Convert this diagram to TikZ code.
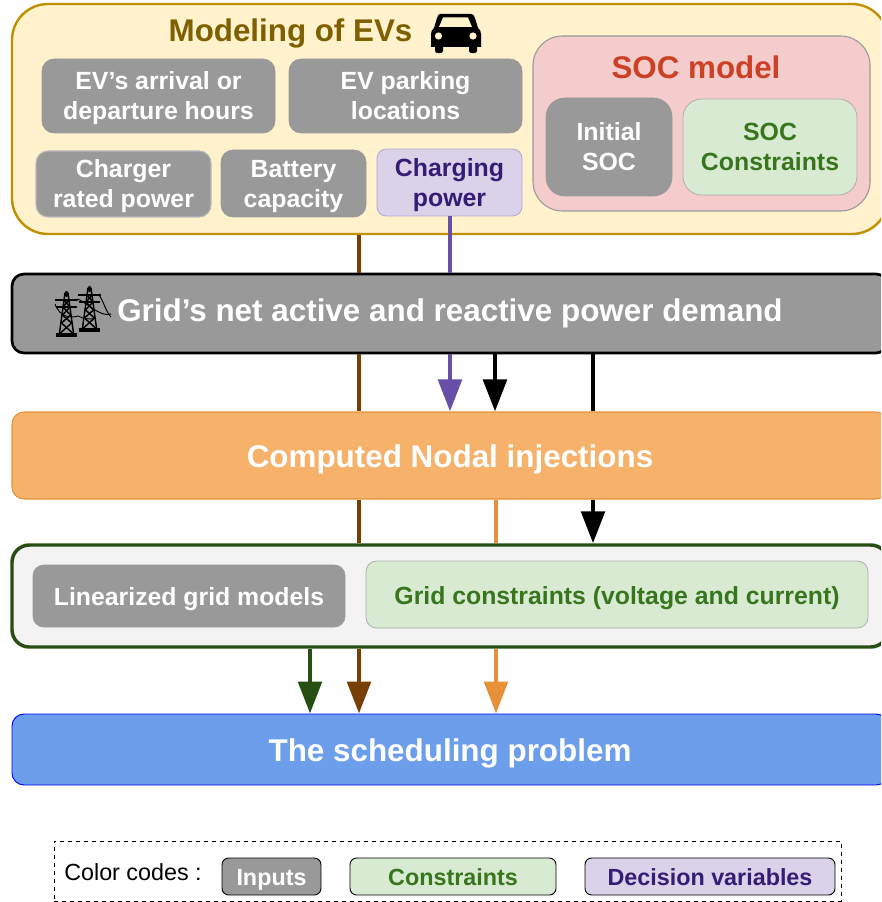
\documentclass[tikz,border=0pt]{standalone}
\usepackage{fontspec}
\setmainfont{Liberation Sans}
\usetikzlibrary{arrows.meta,calc}
\definecolor{cGray}{HTML}{999999}
\definecolor{cYel}{HTML}{FFF2CC}
\definecolor{cYelB}{HTML}{BF9000}
\definecolor{cYelT}{HTML}{7F6000}
\definecolor{cPink}{HTML}{F4CCCC}
\definecolor{cRed}{HTML}{CC4125}
\definecolor{cGrn}{HTML}{D9EAD3}
\definecolor{cGrnT}{HTML}{38761D}
\definecolor{cGrnD}{HTML}{274E13}
\definecolor{cLav}{HTML}{D9D2E9}
\definecolor{cLavB}{HTML}{B4A7D6}
\definecolor{cLavT}{HTML}{351C75}
\definecolor{cBrown}{HTML}{783F04}
\definecolor{cPur}{HTML}{674EA7}
\definecolor{cOrF}{HTML}{F6B26B}
\definecolor{cOr}{HTML}{E69138}
\definecolor{cBlue}{HTML}{6D9EEB}
\definecolor{cLight}{HTML}{F3F3F3}
\newcommand{\bxnode}[7]{%
  \pgfmathsetmacro{\bxw}{(#4-#2)*0.75}%
  \pgfmathsetmacro{\bxh}{(#5-#3)*0.75}%
  \node[#6,minimum width=\bxw pt,minimum height=\bxh pt] (#1) at ({(#2+#4)/2},{(#3+#5)/2}) {#7};}
\newcommand{\twolines}[2]{\rule{0pt}{18pt}#1\\#2\rule[-4.5pt]{0pt}{4.5pt}}
\newcommand{\oneline}[3]{\rule[-#2pt]{0pt}{#1pt}#3}
\newcommand{\pylon}[2]{%
  \begin{scope}[shift={(#1,#2)},draw=black,line width=1.1pt,line cap=round]
    \draw (-1.5,0) -- (-7,40) (1.5,0) -- (7,40);
    \draw (-11,7) -- (11,7) (-10,14) -- (10,14);
    \draw (-2.5,7) -- (3.5,14) -- (-4,22) -- (5,30) -- (-6,40);
    \draw (2.5,7) -- (-3.5,14) -- (4,22) -- (-5,30) -- (6,40);
    \draw[line width=3pt,line cap=butt] (-10.5,42) -- (10.5,42);
    \draw[line width=1.8pt] (0,-1) -- (0,3);
  \end{scope}}
\tikzset{
  x=0.75pt,y=-0.75pt,
  txt/.style={font=\fontsize{18.65}{22.5}\selectfont\bfseries,align=center,inner sep=0pt},
  inbox/.style={txt,rectangle,rounded corners=9pt,text=white,fill=cGray,draw=cGray,line width=0.5pt},
  conbox/.style={txt,rectangle,rounded corners=9pt,text=cGrnT,fill=cGrn,draw=cGray!80,line width=0.6pt},
  decbox/.style={txt,rectangle,rounded corners=7pt,text=cLavT,fill=cLav,draw=cLavB,line width=0.6pt},
  banner/.style={font=\fontsize{23.55}{28}\selectfont\bfseries,inner sep=0pt,rectangle,rounded corners=9pt},
  legbox/.style={font=\fontsize{17.5}{21}\selectfont\bfseries,inner sep=0pt,rectangle,rounded corners=5pt,draw=black,line width=0.7pt},
  wire/.style={line width=3.4pt},
  tipped/.style={wire,-{Triangle[width=17.5pt,length=24pt]}},
}
\begin{document}
\begin{tikzpicture}
\useasboundingbox (0,0) rectangle (881,902);
\clip (0,0) rectangle (881,902);
% upper group
\bxnode{model}{12}{4}{888}{234}{rectangle,rounded corners=27pt,fill=cYel,draw=cYelB,line width=1.8pt}{}
\node[font=\fontsize{23.5}{27}\selectfont\bfseries,text=cYelT,inner sep=0pt] (modeltitle) at (290.5,33) {Modeling of EVs};
\bxnode{arrival}{42}{59}{275}{133}{inbox}{\twolines{EV’s arrival or}{departure hours}}
\bxnode{parking}{289}{59}{522}{133}{inbox}{\twolines{EV parking}{locations}}
\bxnode{rated}{36}{151}{211}{217}{inbox,draw=cGray!70!white,line width=0.8pt}{\twolines{Charger}{rated power}}
\bxnode{battery}{221}{150}{366}{217}{inbox}{\twolines{Battery}{capacity}}
\bxnode{charging}{377}{149}{522}{216}{decbox}{\twolines{Charging}{power}}
\bxnode{soc}{533}{36}{870}{211}{rectangle,rounded corners=22pt,fill=cPink,draw=cGray,line width=0.8pt}{}
\node[font=\fontsize{23.5}{27}\selectfont\bfseries,text=cRed,inner sep=0pt] (soctitle) at (696,67) {SOC model};
\bxnode{initial}{546}{98}{672}{196}{inbox,rounded corners=14pt}{\twolines{Initial}{SOC}}
\bxnode{socc}{683}{99}{857}{195}{conbox,rounded corners=14pt}{\twolines{SOC}{Constraints}}
% bars
\bxnode{grid}{12}{274}{888}{353}{banner,fill=cGray,draw=black,line width=2pt,text=white}{\oneline{18.5}{5}{Grid’s net active and reactive power demand}}
\bxnode{nodal}{12}{412}{888}{499}{banner,fill=cOrF,draw=cOr,line width=0.8pt,text=white}{\oneline{27.5}{5}{Computed Nodal injections}}
\bxnode{gridgroup}{12}{545}{888}{647}{rectangle,rounded corners=13pt,fill=cLight,draw=cGrnD,line width=2.6pt}{}
\bxnode{linear}{33}{565}{345}{627}{inbox,rounded corners=8pt,font=\fontsize{18.6}{22}\selectfont\bfseries}{\oneline{23.5}{5}{Linearized grid models}}
\bxnode{gridcon}{366}{561}{868}{628}{conbox,rounded corners=8pt,font=\fontsize{18.6}{22}\selectfont\bfseries}{\oneline{24.5}{4.4}{Grid constraints (voltage and current)}}
\bxnode{sched}{12}{714}{888}{785}{banner,fill=cBlue,draw=blue,line width=0.7pt,text=white}{\oneline{27.5}{5}{The scheduling problem}}
% car icon
\fill[black] (440,14) -- (471,14) .. controls (473,14) and (474,15) .. (475,18) -- (478,28) .. controls (480,30) and (481,31) .. (481,34) -- (481,47) -- (477,47) -- (477,51) .. controls (477,54) and (469,54) .. (469,51) -- (469,47) -- (443,47) -- (443,51) .. controls (443,54) and (435,54) .. (435,51) -- (435,47) -- (431,47) -- (431,34) .. controls (431,31) and (432,30) .. (434,28) -- (437,18) .. controls (438,15) and (439,14) .. (440,14) -- cycle;
\fill[cYel] (443,17.5) -- (468,17.5) -- (472,27) -- (439,27) -- cycle;
\fill[cYel] (438.5,36) circle[radius=3.6] (473,36) circle[radius=3.6];
% pylons
\draw[black,line width=0.7pt] (55,304) .. controls (60,318) and (72,318) .. (78,316) .. controls (84,319) and (90,320) .. (96,318);
\draw[black,line width=0.7pt] (77,299) .. controls (84,300) and (100,318) .. (111,314);
\draw[black,line width=0.7pt] (99,295) .. controls (103,300) and (106,312) .. (111,317);
\pylon{66.5}{293}
\pylon{89.5}{288}
% connectors
\coordinate (xa) at (310,0);
\coordinate (xb) at (359,0);
\coordinate (xc) at (450,0);
\coordinate (xd) at (495,0);
\coordinate (xe) at (593,0);
\coordinate (xf) at (496,0);
\draw[wire,cBrown] (model.south -| xb) -- (grid.north -| xb);
\draw[wire,cPur] (charging.south -| xc) -- (grid.north -| xc);
\draw[wire,cBrown] (grid.south -| xb) -- (nodal.north -| xb);
\draw[tipped,cPur] (grid.south -| xc) -- (nodal.north -| xc);
\draw[tipped,black] (grid.south -| xd) -- (nodal.north -| xd);
\draw[wire,black] (grid.south -| xe) -- (nodal.north -| xe);
\draw[wire,cBrown] (nodal.south -| xb) -- (gridgroup.north -| xb);
\draw[wire,cOr] (nodal.south -| xf) -- (gridgroup.north -| xf);
\draw[tipped,black] (nodal.south -| xe) -- (gridgroup.north -| xe);
\draw[tipped,cGrnD] (gridgroup.south -| xa) -- (sched.north -| xa);
\draw[tipped,cBrown] (gridgroup.south -| xb) -- (sched.north -| xb);
\draw[tipped,cOr] (gridgroup.south -| xf) -- (sched.north -| xf);
% legend
\bxnode{legend}{54}{841}{841}{901}{rectangle,draw=black,dashed,line width=0.7pt,inner sep=0pt}{}
\node[font=\fontsize{17.5}{21}\selectfont,inner sep=0pt] (codes) at (133,872) {Color codes :};
\bxnode{leginputs}{222}{858}{321}{895}{legbox,fill=cGray,text=white}{\oneline{21}{4}{Inputs}}
\bxnode{legcons}{350}{858}{556}{895}{legbox,fill=cGrn,text=cGrnT}{\oneline{21}{4}{Constraints}}
\bxnode{legdec}{585}{858}{835}{895}{legbox,fill=cLav,text=cLavT}{\oneline{21}{4}{Decision variables}}
\end{tikzpicture}
\end{document}
